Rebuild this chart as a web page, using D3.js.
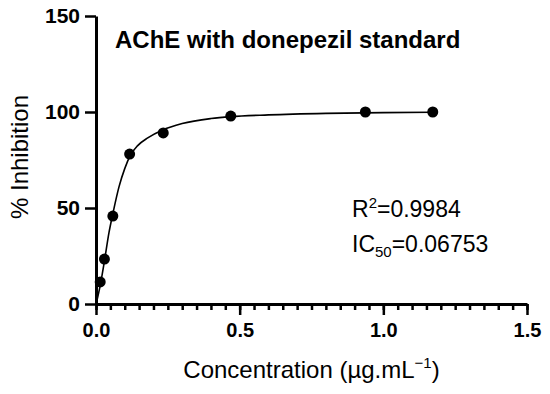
<!DOCTYPE html>
<html>
<head>
<meta charset="utf-8">
<script src="https://cdn.jsdelivr.net/npm/d3@7"></script>
<style>
  body { margin: 0; background: #fff; }
  text { font-family: Arial, "Liberation Sans", sans-serif; fill: #000; }
</style>
</head>
<body>
<div class="chart"></div>
<script>
  // measured points (concentration in ug/mL, % inhibition)
  var concentration = [0.0146, 0.0293, 0.0586, 0.117, 0.234, 0.469, 0.9375, 1.172]
  var inhibition = [11.5, 23.4, 45.8, 78.1, 89.1, 97.9, 100, 100]

  // fitted curve
  var fitX = [0.002, 0.015, 0.03, 0.045, 0.06, 0.08, 0.1, 0.12, 0.145, 0.18, 0.23, 0.3, 0.4, 0.47, 0.6, 0.8, 1.0, 1.172]
  var fitY = [1, 10, 23, 37, 48, 61, 70.5, 77.5, 82.5, 86.5, 90.5, 94, 96.6, 97.6, 98.5, 99.3, 99.7, 99.9]

  var xTicks = [0, 0.5, 1.0, 1.5]
  var xMinorTicks = d3.range(0, 31).map(function (i) { return i * 0.05 })
  var yTicks = [0, 50, 100, 150]

  var width = 550, height = 394
  var margin = {top: 16, right: 23, bottom: 90, left: 96}

  var svg = d3.select(".chart").append("svg")
    .attr("width", width)
    .attr("height", height)

  var x = d3.scaleLinear().domain([0, 1.5]).range([margin.left, width - margin.right]),
    y = d3.scaleLinear().domain([0, 150]).range([height - margin.bottom, margin.top])

  // x axis: minor ticks first, then majors with labels
  svg.append("g")
      .attr("transform", "translate(0," + y(0) + ")")
      .call(d3.axisBottom(x).tickValues(xMinorTicks).tickSize(6).tickFormat(""))
      .call(function (g) { g.select(".domain").remove() })
      .selectAll("line").attr("stroke-width", 2.5)

  var xAxis = svg.append("g")
      .attr("transform", "translate(0," + y(0) + ")")
      .call(d3.axisBottom(x).tickValues(xTicks).tickSize(11).tickSizeOuter(0).tickPadding(8).tickFormat(d3.format(".1f")))
  xAxis.select(".domain").attr("stroke-width", 3)
  xAxis.selectAll("line").attr("stroke-width", 2.5)
  xAxis.selectAll("text")
      .style("font-size", "20px")
      .style("font-weight", "bold")

  var yAxis = svg.append("g")
      .attr("transform", "translate(" + x(0) + ",0)")
      .call(d3.axisLeft(y).tickValues(yTicks).tickSize(11).tickSizeOuter(0).tickPadding(5))
  yAxis.select(".domain").attr("stroke-width", 3)
  yAxis.selectAll("line").attr("stroke-width", 2.5)
  yAxis.selectAll("text")
      .style("font-size", "21px")
      .style("font-weight", "bold")

  // fit line
  var fit = fitX.map(function (d, i) { return {x: d, y: fitY[i]} })
  var line = d3.line()
    .curve(d3.curveMonotoneX)
    .x(function (d) { return x(d.x) })
    .y(function (d) { return y(d.y) })

  svg.append("path")
      .datum(fit)
      .attr("d", line)
      .style("fill", "none")
      .style("stroke", "#000")
      .style("stroke-width", 1.6)

  var points = concentration.map(function (d, i) { return {x: d, y: inhibition[i]} })
  svg.selectAll(".dot")
    .data(points)
    .enter().append("circle")
      .attr("class", "dot")
      .attr("cx", function (d) { return x(d.x) })
      .attr("cy", function (d) { return y(d.y) })
      .attr("r", 5.5)
      .style("fill", "#000")

  // titles
  svg.append("text")
      .attr("x", 115)
      .attr("y", 48)
      .style("font-size", "24px")
      .style("font-weight", "bold")
      .text("AChE with donepezil standard")

  svg.append("text")
      .attr("transform", "translate(28,157) rotate(-90)")
      .attr("text-anchor", "middle")
      .style("font-size", "24px")
      .text("% Inhibition")

  var xt = svg.append("text")
      .attr("x", (x(0) + x(1.5)) / 2)
      .attr("y", 378)
      .attr("text-anchor", "middle")
      .style("font-size", "24px")
  xt.append("tspan").text("Concentration (µg.mL")
  xt.append("tspan").attr("dy", -10).style("font-size", "15px").text("−1")
  xt.append("tspan").attr("dy", 10).text(")")

  var r2 = svg.append("text")
      .attr("x", 352)
      .attr("y", 217)
      .style("font-size", "23px")
  r2.append("tspan").text("R")
  r2.append("tspan").attr("dy", -9).style("font-size", "15px").text("2")
  r2.append("tspan").attr("dy", 9).text("=0.9984")

  var ic = svg.append("text")
      .attr("x", 352)
      .attr("y", 252)
      .style("font-size", "23px")
  ic.append("tspan").text("IC")
  ic.append("tspan").attr("dy", 5).style("font-size", "15px").text("50")
  ic.append("tspan").attr("dy", -5).text("=0.06753")
</script>
</body>
</html>
